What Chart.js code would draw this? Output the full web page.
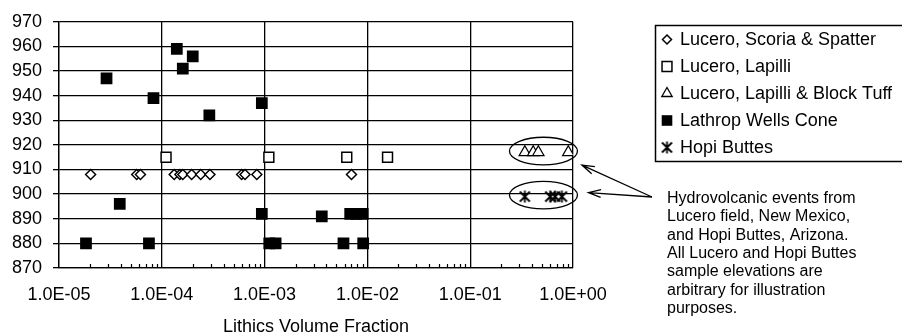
<!DOCTYPE html>
<html>
<head>
<meta charset="utf-8">
<script src="https://cdn.jsdelivr.net/npm/chart.js@4"></script>
<style>
  html, body { margin: 0; padding: 0; background: #fff; }
  #wrap { width: 902px; height: 336px; position: relative; }
</style>
</head>
<body>
<div id="wrap"><canvas id="c"></canvas></div>
<script>
// ─── Data ─────────────────────────────────────────────────────────
const seriesNames = [
  'Lucero, Scoria & Spatter',
  'Lucero, Lapilli',
  'Lucero, Lapilli & Block Tuff',
  'Lathrop Wells Cone',
  'Hopi Buttes',
];

const scoriaX = [2.03e-5, 5.7e-5, 6.2e-5, 1.32e-4, 1.5e-4, 1.6e-4, 1.95e-4, 2.39e-4, 2.94e-4, 5.98e-4, 6.45e-4, 8.4e-4, 7.0e-3];
const scoriaY = [908, 908, 908, 908, 908, 908, 908, 908, 908, 908, 908, 908, 908];

const lapilliX = [1.1e-4, 1.1e-3, 6.3e-3, 1.57e-2];
const lapilliY = [915, 915, 915, 915];

const tuffX = [0.34, 0.41, 0.46, 0.90];
const tuffY = [917, 917, 917, 917];

const lathropX = [1.83e-5, 2.9e-5, 3.9e-5, 7.5e-5, 8.3e-5, 1.4e-4, 1.6e-4, 2.0e-4, 2.9e-4, 9.4e-4, 9.4e-4, 1.11e-3, 1.28e-3, 3.6e-3, 5.85e-3, 9.1e-3, 6.8e-3, 7.8e-3, 9.0e-3];
const lathropY = [880, 947, 896, 880, 939, 959, 951, 956, 932, 937, 892, 880, 880, 891, 880, 880, 892, 892, 892];

const hopiX = [0.34, 0.60, 0.67, 0.78];
const hopiY = [899, 899, 899, 899];

const xTickValues = [1e-5, 1e-4, 1e-3, 1e-2, 1e-1, 1e0];
const xTickLabels = ['1.0E-05', '1.0E-04', '1.0E-03', '1.0E-02', '1.0E-01', '1.0E+00'];
const yMin = 870, yMax = 970, yStep = 10;

const noteLines = [
  'Hydrovolcanic events from',
  'Lucero field, New Mexico,',
  'and Hopi Buttes, Arizona.',
  'All Lucero and Hopi Buttes',
  'sample elevations are',
  'arbitrary for illustration',
  'purposes.',
];

const FONT = "'Liberation Sans', Arial, sans-serif";

// ─── Asterisk marker (X with a vertical bar) ──────────────────────
function asterisk(size) {
  const c = document.createElement('canvas');
  c.width = size; c.height = size;
  const g = c.getContext('2d');
  g.strokeStyle = '#000';
  g.lineWidth = 1.8;
  g.beginPath();
  g.moveTo(1.5, 1.5); g.lineTo(size - 1.5, size - 1.5);
  g.moveTo(size - 1.5, 1.5); g.lineTo(1.5, size - 1.5);
  g.moveTo(size / 2, 0.5); g.lineTo(size / 2, size - 0.5);
  g.stroke();
  return c;
}

const pts = (xs, ys) => xs.map((x, i) => ({ x, y: ys[i] }));

// ─── Plugins: minor ticks, legend box, notes ──────────────────────
const minorTicks = {
  id: 'minorTicks',
  afterDraw(chart) {
    const { ctx, scales: { x }, chartArea } = chart;
    ctx.save();
    ctx.strokeStyle = '#000';
    ctx.lineWidth = 1.2;
    ctx.beginPath();
    for (let d = -5; d < 0; d++) {
      for (let k = 2; k <= 9; k++) {
        const px = Math.round(x.getPixelForValue(k * Math.pow(10, d))) + 0.5;
        ctx.moveTo(px, chartArea.bottom);
        ctx.lineTo(px, chartArea.bottom - 4);
      }
    }
    ctx.stroke();
    ctx.restore();
  }
};

const legendBox = {
  id: 'legendBox',
  afterDraw(chart) {
    const { ctx } = chart;
    ctx.save();
    ctx.strokeStyle = '#000';
    ctx.lineWidth = 1.5;
    ctx.strokeRect(655.5, 25.5, 260, 136);
    ctx.font = `18px ${FONT}`;
    ctx.textBaseline = 'middle';
    ctx.fillStyle = '#000';
    chart.data.datasets.forEach((ds, i) => {
      const y = 39.5 + i * 27;
      ctx.fillStyle = ds.backgroundColor;
      ctx.strokeStyle = ds.borderColor;
      ctx.lineWidth = ds.borderWidth;
      Chart.helpers.drawPoint(ctx, {
        pointStyle: ds.pointStyle,
        radius: ds.legendRadius,
        borderWidth: ds.borderWidth,
        rotation: 0,
      }, 667, y);
      ctx.fillStyle = '#000';
      ctx.fillText(ds.label, 680, y + 1);
    });
    ctx.restore();
  }
};

const notes = {
  id: 'notes',
  afterDraw(chart) {
    const { ctx, scales: { x, y } } = chart;
    ctx.save();
    ctx.strokeStyle = '#000';
    ctx.lineWidth = 1.3;

    // ellipses around the hydrovolcanic groups
    const cx = x.getPixelForValue(0.516);
    const e1 = y.getPixelForValue(917.5);
    const e2 = y.getPixelForValue(899.6);
    [e1, e2].forEach(cy => {
      ctx.beginPath();
      ctx.ellipse(cx, cy, 34, 13.8, 0, 0, Math.PI * 2);
      ctx.stroke();
    });

    // arrows from the note to the ellipses
    const tail = [652, 197];
    const heads = [[cx + 38.5, e1 + 14], [cx + 45, e2 - 2.5]];
    heads.forEach(([hx, hy]) => {
      const a = Math.atan2(hy - tail[1], hx - tail[0]);
      ctx.beginPath();
      ctx.moveTo(tail[0], tail[1]);
      ctx.lineTo(hx, hy);
      ctx.moveTo(hx - 13 * Math.cos(a - 0.3), hy - 13 * Math.sin(a - 0.3));
      ctx.lineTo(hx, hy);
      ctx.lineTo(hx - 13 * Math.cos(a + 0.3), hy - 13 * Math.sin(a + 0.3));
      ctx.stroke();
    });

    ctx.font = `16px ${FONT}`;
    ctx.fillStyle = '#000';
    ctx.textBaseline = 'middle';
    noteLines.forEach((t, i) => ctx.fillText(t, 667, 198.5 + i * 18.35));
    ctx.restore();
  }
};

// ─── Chart ────────────────────────────────────────────────────────
new Chart(document.getElementById('c'), {
  type: 'scatter',
  data: {
    datasets: [
      { label: seriesNames[0], data: pts(scoriaX, scoriaY), pointStyle: 'rectRot', pointRadius: 5, legendRadius: 4.5,
        backgroundColor: '#fff', borderColor: '#000', borderWidth: 1.5 },
      { label: seriesNames[1], data: pts(lapilliX, lapilliY), pointStyle: 'rect', pointRadius: 7, legendRadius: 7,
        backgroundColor: '#fff', borderColor: '#000', borderWidth: 1.5 },
      { label: seriesNames[2], data: pts(tuffX, tuffY), pointStyle: 'triangle', pointRadius: 6.5, legendRadius: 6,
        backgroundColor: '#fff', borderColor: '#000', borderWidth: 1.3 },
      { label: seriesNames[3], data: pts(lathropX, lathropY), pointStyle: 'rect', pointRadius: 8.3, legendRadius: 7.5,
        backgroundColor: '#000', borderColor: '#000', borderWidth: 0 },
      { label: seriesNames[4], data: pts(hopiX, hopiY), pointStyle: asterisk(13), pointRadius: 6.5, legendRadius: 6.5,
        backgroundColor: '#000', borderColor: '#000', borderWidth: 0 },
    ],
  },
  options: {
    responsive: true,
    maintainAspectRatio: false,
    animation: false,
    events: [],
    layout: { padding: { top: 20, right: 329, bottom: 0, left: 0 } },
    plugins: { legend: { display: false }, tooltip: { enabled: false } },
    scales: {
      x: {
        type: 'logarithmic',
        min: 1e-5,
        max: 1,
        afterBuildTicks: s => { s.ticks = xTickValues.map(v => ({ value: v, major: true })); },
        afterFit: s => { s.height = 68; },
        ticks: {
          autoSkip: false,
          maxRotation: 0,
          padding: 16,
          color: '#000',
          font: { family: FONT, size: 18 },
          callback: (v, i) => xTickLabels[i],
        },
        grid: { color: '#000', lineWidth: 1.3, drawTicks: false },
        border: { color: '#000', width: 1.3 },
        title: {
          display: true,
          text: 'Lithics Volume Fraction',
          color: '#000',
          padding: 0,
          font: { family: FONT, size: 18, lineHeight: 1 },
        },
      },
      y: {
        min: yMin,
        max: yMax,
        afterFit: s => { s.width = 59; },
        ticks: {
          stepSize: yStep,
          padding: 11,
          color: '#000',
          font: { family: FONT, size: 18 },
        },
        grid: { color: '#000', lineWidth: 1.3, drawTicks: true, tickLength: 6, tickColor: '#000' },
        border: { color: '#000', width: 1.3 },
      },
    },
  },
  plugins: [minorTicks, legendBox, notes],
});
</script>
</body>
</html>
